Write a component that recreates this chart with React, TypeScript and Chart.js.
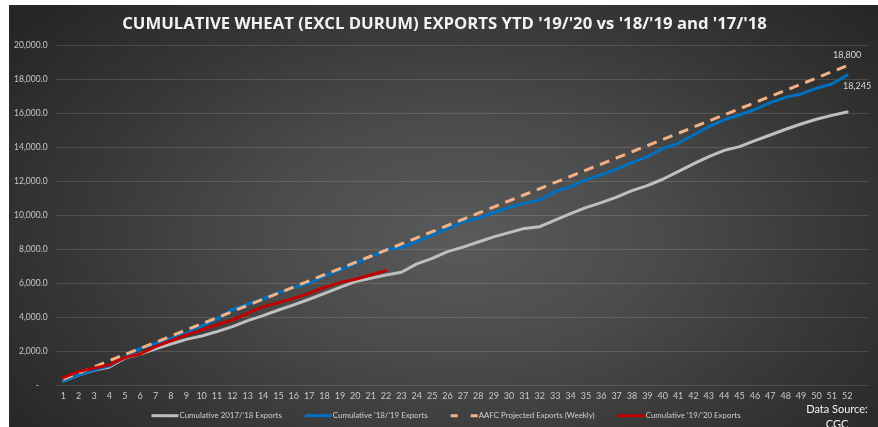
import React, { useEffect, useRef } from "react";
import { Chart, registerables } from "chart.js";

Chart.register(...registerables);

const weeks = [
  1, 2, 3, 4, 5, 6, 7, 8, 9, 10, 11, 12, 13, 14, 15, 16, 17, 18, 19, 20, 21, 22, 23, 24, 25, 26,
  27, 28, 29, 30, 31, 32, 33, 34, 35, 36, 37, 38, 39, 40, 41, 42, 43, 44, 45, 46, 47, 48, 49, 50, 51, 52,
];

const exports1718 = [
  250, 600, 880, 1080, 1600, 1840, 2150, 2430, 2700, 2900, 3160, 3450, 3800, 4100, 4430, 4730, 5060,
  5410, 5760, 6100, 6300, 6490, 6650, 7140, 7470, 7860, 8130, 8430, 8730, 8980, 9230, 9330, 9720,
  10100, 10450, 10750, 11070, 11450, 11745, 12120, 12570, 13020, 13450, 13820, 14040, 14390, 14725,
  15060, 15370, 15650, 15880, 16080,
];

const exports1819 = [
  250, 600, 900, 1140, 1650, 2170, 2470, 2760, 3060, 3490, 3900, 4450, 4780, 5080, 5450, 5760, 6000,
  6430, 6780, 7140, 7570, 7960, 8120, 8450, 8840, 9230, 9620, 9830, 10150, 10460, 10700, 10900, 11390,
  11690, 12080, 12380, 12720, 13100, 13450, 13920, 14235, 14725, 15215, 15620, 15900, 16235, 16630,
  16940, 17140, 17470, 17725, 18245,
];

const aafcProjected = [
  362, 723, 1085, 1446, 1808, 2169, 2531, 2892, 3254, 3615, 3977, 4338, 4700, 5062, 5423, 5785, 6146,
  6508, 6869, 7231, 7592, 7954, 8315, 8677, 9038, 9400, 9762, 10123, 10485, 10846, 11208, 11569, 11931,
  12292, 12654, 13015, 13377, 13738, 14100, 14462, 14823, 15185, 15546, 15908, 16269, 16631, 16992,
  17354, 17715, 18077, 18438, 18800,
];

const exports1920 = [
  450, 820, 1000, 1200, 1630, 1840, 2270, 2620, 2960, 3250, 3550, 3840, 4235, 4630, 4860, 5120, 5410,
  5760, 6040, 6235, 6490, 6745,
];

const yTicks = [0, 2000, 4000, 6000, 8000, 10000, 12000, 14000, 16000, 18000, 20000];

const titleText = "CUMULATIVE WHEAT (EXCL DURUM) EXPORTS YTD '19/'20 vs '18/'19 and '17/'18";
const seriesNames = [
  "Cumulative 2017/'18 Exports",
  "Cumulative '18/'19 Exports",
  "AAFC Projected Exports (Weekly)",
  "Cumulative '19/'20 Exports",
];
const sourceLines = ["Data Source:", "CGC"];

const colors = ["#bfbfbf", "#0070c0", "#f4b183", "#c00000"];
const FONT = "Lato";

function toPoints(vals: number[]) {
  return vals.map((v, i) => ({ x: weeks[i], y: v }));
}

const overlayPlugin = {
  id: "overlay",
  afterDraw(chart: any) {
    const ctx = chart.ctx as CanvasRenderingContext2D;
    ctx.save();
    // title, fitted to the reference width
    ctx.font = `bold 20px "Open Sans"`;
    const tw = ctx.measureText(titleText).width;
    const tSize = (20 * 645) / tw;
    ctx.font = `bold ${tSize}px "Open Sans"`;
    ctx.fillStyle = "#f2f2f2";
    ctx.textAlign = "center";
    ctx.textBaseline = "middle";
    ctx.fillText(titleText, 435.5, 19);

    // data labels
    ctx.font = `9px ${FONT}`;
    ctx.fillStyle = "#d9d9d9";
    const mOr = chart.getDatasetMeta(2).data[51];
    const mBl = chart.getDatasetMeta(1).data[51];
    if (mOr) {
      ctx.textAlign = "center";
      ctx.fillText("18,800", mOr.x, mOr.y - 11);
    }
    if (mBl) {
      ctx.textAlign = "center";
      ctx.fillText("18,245", mBl.x + 10, mBl.y + 11);
    }

    // legend, text fitted to the reference width
    const sample = 27;
    const gap = 23;
    ctx.font = `10px ${FONT}`;
    const raw = seriesNames.reduce((a, n) => a + ctx.measureText(n).width, 0);
    const textTarget = 590 - 4 * (sample + 1) - 3 * gap;
    const lSize = (10 * textTarget) / raw;
    ctx.font = `${lSize}px ${FONT}`;
    const widths = seriesNames.map((n) => sample + 1 + ctx.measureText(n).width);
    const total = widths.reduce((a, b) => a + b, 0) + gap * (widths.length - 1);
    let x = 437 - total / 2;
    const ly = 410.7;
    seriesNames.forEach((n, i) => {
      ctx.beginPath();
      ctx.strokeStyle = colors[i];
      ctx.lineWidth = 3;
      ctx.setLineDash(i === 2 ? [7, 13] : []);
      ctx.moveTo(x, ly);
      ctx.lineTo(x + sample, ly);
      ctx.stroke();
      ctx.setLineDash([]);
      ctx.fillStyle = "#d0d0d0";
      ctx.textAlign = "left";
      ctx.fillText(n, x + sample + 1, ly);
      x += widths[i] + gap;
    });

    // source
    ctx.fillStyle = "#f2f2f2";
    ctx.font = `11px ${FONT}`;
    ctx.textAlign = "center";
    ctx.fillText(sourceLines[0], 828, 404);
    ctx.fillText(sourceLines[1], 828, 419);
    ctx.restore();
  },
};

export default function App() {
  const ref = useRef<HTMLCanvasElement>(null);
  useEffect(() => {
    if (!ref.current) return;
    const datasets = [
      { label: seriesNames[0], data: toPoints(exports1718), borderColor: colors[0], order: 3 },
      { label: seriesNames[1], data: toPoints(exports1819), borderColor: colors[1], order: 2 },
      {
        label: seriesNames[2],
        data: toPoints(aafcProjected),
        borderColor: colors[2],
        borderDash: [10, 7],
        borderCapStyle: "butt",
        order: 1,
      },
      { label: seriesNames[3], data: toPoints(exports1920), borderColor: colors[3], order: 0 },
    ].map((d: any) => ({
      borderWidth: 3,
      pointRadius: 0,
      pointHoverRadius: 0,
      tension: 0,
      fill: false,
      borderJoinStyle: "round",
      borderCapStyle: d.borderCapStyle || "round",
      ...d,
    }));

    const chart = new Chart(ref.current, {
      type: "line",
      data: { datasets },
      options: {
        responsive: false,
        animation: false,
        layout: { padding: { top: 40.3, right: 9, left: 0, bottom: 0 } },
        plugins: { legend: { display: false }, title: { display: false }, tooltip: { enabled: false } },
        scales: {
          x: {
            type: "linear",
            min: 0.5,
            max: 53.42,
            grid: { display: false, drawTicks: false },
            border: { display: false },
            afterBuildTicks: (s: any) => {
              s.ticks = weeks.map((v) => ({ value: v }));
            },
            afterFit: (s: any) => {
              s.height = 41.7;
            },
            ticks: {
              autoSkip: false,
              maxRotation: 0,
              padding: 5,
              color: "#c8c8c8",
              font: { family: FONT, size: 9 },
              callback: (v: any) => String(v),
            },
          },
          y: {
            type: "linear",
            min: 0,
            max: 20000,
            afterBuildTicks: (s: any) => {
              s.ticks = yTicks.map((v) => ({ value: v }));
            },
            afterFit: (s: any) => {
              s.width = 46.6;
            },
            grid: { color: "rgba(255,255,255,0.13)", lineWidth: 1, drawTicks: false },
            border: { display: false },
            ticks: {
              padding: 8,
              color: "#c8c8c8",
              font: { family: FONT, size: 8.5 },
              callback: (v: any) =>
                Number(v) === 0
                  ? "-    "
                  : Number(v).toLocaleString("en-US", { minimumFractionDigits: 1, maximumFractionDigits: 1 }),
            },
          },
        },
      } as any,
      plugins: [overlayPlugin],
    });
    return () => chart.destroy();
  }, []);

  return (
    <div
      style={{
        position: "absolute",
        left: 9,
        top: 5,
        width: 869,
        height: 422,
        background:
          "radial-gradient(ellipse 65% 80% at 52% 55%, #5a5a5a 0%, #4b4b4b 35%, #363636 70%, #262626 100%)",
      }}
    >
      <canvas ref={ref} width={869} height={422} style={{ display: "block" }} />
    </div>
  );
}
